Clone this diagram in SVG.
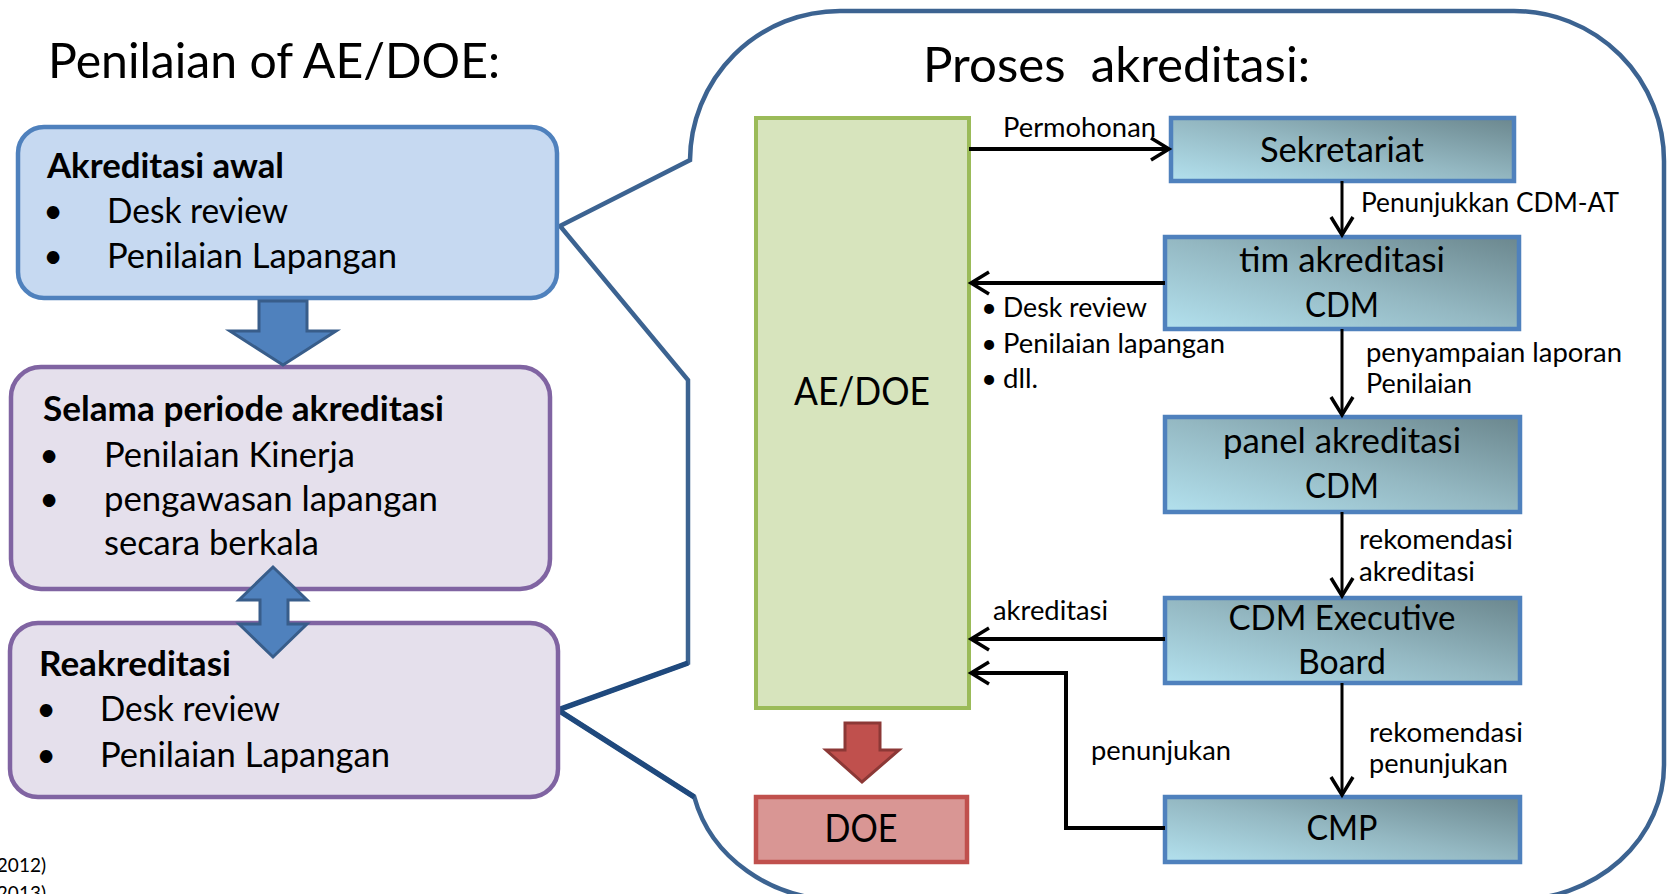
<svg xmlns="http://www.w3.org/2000/svg" width="1668" height="894" viewBox="0 0 1668 894">
  <style>
    text { font-family: Lato, "Liberation Sans", sans-serif; fill: #000; }
    .title { font-size: 49px; }
    .bx { font-size: 34px; }
    .b { font-weight: bold; }
    .lbl { font-size: 27px; }
    .big { font-size: 39px; }
    .fn { font-size: 19px; }
    .mid { text-anchor: middle; }
    .lbox1 { fill: #c6d9f1; stroke: #4f81bd; stroke-width: 4.5; }
    .lbox2 { fill: #e5e0ec; stroke: #8064a2; stroke-width: 4.5; }
    .pbox { fill: url(#tealGrad); stroke: #4f81bd; stroke-width: 4.5; }
    .conn { fill: none; stroke: #000; stroke-width: 4; marker-end: url(#chev); }
    .connv { fill: none; stroke: #000; stroke-width: 3; marker-end: url(#chev); }
    .barrow { fill: #4f81bd; stroke: #385d8a; stroke-width: 3; }
    .rarrow { fill: #c0504d; stroke: #8c3836; stroke-width: 3; }
  </style>
  <defs>
    <linearGradient id="tealGrad" x1="0" y1="1" x2="1" y2="0">
      <stop offset="0" stop-color="#b3e1ee"/>
      <stop offset="0.5" stop-color="#94b8c2"/>
      <stop offset="1" stop-color="#6b878e"/>
    </linearGradient>
    <marker id="chev" markerUnits="userSpaceOnUse" markerWidth="26" markerHeight="26" viewBox="0 0 26 26" refX="22" refY="13" orient="auto">
      <path d="M4,2 L22,13 L4,24" fill="none" stroke="#000" stroke-width="3.5"/>
    </marker>
  </defs>
  <rect width="1668" height="894" fill="#fff"/>

  <!-- callout outline -->
  <g id="callout">
    <path d="M690,160 A150,150 0 0 1 840,11 H1514 A150,150 0 0 1 1664,161 V765 A150,135 0 0 1 1514,900 H840 A150,135 0 0 1 694.3,797 L558,710 L688,663 V380 L560,226 Z" fill="none" stroke="#3c6391" stroke-width="4.5" stroke-linejoin="miter"/>
    <path d="M688,663 L558,710 L694.3,797" fill="none" stroke="#1f497d" stroke-width="5.5"/>
  </g>

  <!-- left title -->
  <text class="title" x="48" y="78" textLength="452" lengthAdjust="spacingAndGlyphs">Penilaian of AE/DOE:</text>

  <g id="akreditasi-awal">
    <rect class="lbox1" x="18" y="127" width="539" height="171" rx="26"/>
    <text class="bx b" x="47" y="178" textLength="237" lengthAdjust="spacingAndGlyphs">Akreditasi awal</text>
    <text class="bx mid" x="53" y="223">•</text>
    <text class="bx" x="107" y="223" textLength="181" lengthAdjust="spacingAndGlyphs">Desk review</text>
    <text class="bx mid" x="53" y="268">•</text>
    <text class="bx" x="107" y="268" textLength="290" lengthAdjust="spacingAndGlyphs">Penilaian Lapangan</text>
  </g>

  <g id="selama-periode">
    <rect class="lbox2" x="11" y="367" width="539" height="222" rx="30"/>
    <text class="bx b" x="43" y="421" textLength="401" lengthAdjust="spacingAndGlyphs">Selama periode akreditasi</text>
    <text class="bx mid" x="49" y="467">•</text>
    <text class="bx" x="104" y="467" textLength="251" lengthAdjust="spacingAndGlyphs">Penilaian Kinerja</text>
    <text class="bx mid" x="49" y="511">•</text>
    <text class="bx" x="104" y="511" textLength="334" lengthAdjust="spacingAndGlyphs">pengawasan lapangan</text>
    <text class="bx" x="104" y="555" textLength="215" lengthAdjust="spacingAndGlyphs">secara berkala</text>
  </g>

  <g id="reakreditasi">
    <rect class="lbox2" x="10" y="623" width="548" height="174" rx="28"/>
    <text class="bx b" x="39" y="676" textLength="192" lengthAdjust="spacingAndGlyphs">Reakreditasi</text>
    <text class="bx mid" x="46" y="721">•</text>
    <text class="bx" x="100" y="721" textLength="180" lengthAdjust="spacingAndGlyphs">Desk review</text>
    <text class="bx mid" x="46" y="767">•</text>
    <text class="bx" x="100" y="767" textLength="290" lengthAdjust="spacingAndGlyphs">Penilaian Lapangan</text>
  </g>

  <g id="left-arrows">
    <path class="barrow" d="M259,301 H307 V331 H336 L283,365 L230,331 H259 Z"/>
    <path class="barrow" d="M273,567 L307,600 H288 V624 H307 L273,657 L239,624 H260 V600 H239 Z"/>
  </g>

  <g id="footnote">
    <text class="fn" x="46" y="872" text-anchor="end">2012)</text>
    <text class="fn" x="46" y="900" text-anchor="end">2013)</text>
  </g>

  <!-- right title -->
  <text class="title" x="923" y="82" xml:space="preserve" textLength="387" lengthAdjust="spacingAndGlyphs">Proses  akreditasi:</text>

  <g id="ae-doe">
    <rect x="756" y="118" width="213" height="590" fill="#d7e4bd" stroke="#9bbb59" stroke-width="4"/>
    <text class="big mid" x="862" y="405" textLength="136" lengthAdjust="spacingAndGlyphs">AE/DOE</text>
  </g>

  <g id="doe-arrow">
    <path class="rarrow" d="M845,723 H880 V750 H899 L862,782 L826,750 H845 Z"/>
  </g>

  <g id="doe">
    <rect x="756" y="797" width="211" height="65" fill="#d99694" stroke="#c0504d" stroke-width="4.5"/>
    <text class="big mid" x="861" y="842" textLength="73" lengthAdjust="spacingAndGlyphs">DOE</text>
  </g>

  <g id="sekretariat">
    <rect class="pbox" x="1171" y="118" width="343" height="63"/>
    <text class="bx mid" x="1342" y="162" textLength="164" lengthAdjust="spacingAndGlyphs">Sekretariat</text>
  </g>

  <g id="tim-akreditasi">
    <rect class="pbox" x="1165" y="237" width="354" height="92"/>
    <text class="bx mid" x="1342" y="272" textLength="206" lengthAdjust="spacingAndGlyphs">tim akreditasi</text>
    <text class="bx mid" x="1342" y="317" textLength="74" lengthAdjust="spacingAndGlyphs">CDM</text>
  </g>

  <g id="panel-akreditasi">
    <rect class="pbox" x="1165" y="417" width="355" height="95"/>
    <text class="bx mid" x="1342" y="453" textLength="238" lengthAdjust="spacingAndGlyphs">panel akreditasi</text>
    <text class="bx mid" x="1342" y="498" textLength="74" lengthAdjust="spacingAndGlyphs">CDM</text>
  </g>

  <g id="cdm-eb">
    <rect class="pbox" x="1165" y="598" width="355" height="85"/>
    <text class="bx mid" x="1342" y="630" textLength="227" lengthAdjust="spacingAndGlyphs">CDM Executive</text>
    <text class="bx mid" x="1342" y="674" textLength="88" lengthAdjust="spacingAndGlyphs">Board</text>
  </g>

  <g id="cmp">
    <rect class="pbox" x="1165" y="797" width="355" height="65"/>
    <text class="bx mid" x="1342" y="840" textLength="71" lengthAdjust="spacingAndGlyphs">CMP</text>
  </g>

  <g id="connectors">
    <path class="conn" d="M969,149 H1169"/>
    <path class="connv" d="M1342,181 V235"/>
    <path class="conn" d="M1165,283 H971"/>
    <path class="connv" d="M1342,329 V415"/>
    <path class="connv" d="M1342,512 V596"/>
    <path class="conn" d="M1165,639 H971"/>
    <path class="connv" d="M1342,683 V795"/>
    <path class="conn" d="M1165,828 H1066 V673 H971"/>

    <text class="lbl" x="1003" y="137" textLength="153" lengthAdjust="spacingAndGlyphs">Permohonan</text>
    <text class="lbl" x="1361" y="212" textLength="258" lengthAdjust="spacingAndGlyphs">Penunjukkan CDM-AT</text>
    <text class="lbl mid" x="989" y="317">•</text>
    <text class="lbl" x="1003" y="317" textLength="144" lengthAdjust="spacingAndGlyphs">Desk review</text>
    <text class="lbl mid" x="989" y="353">•</text>
    <text class="lbl" x="1003" y="353" textLength="222" lengthAdjust="spacingAndGlyphs">Penilaian lapangan</text>
    <text class="lbl mid" x="989" y="388">•</text>
    <text class="lbl" x="1003" y="388" textLength="35" lengthAdjust="spacingAndGlyphs">dll.</text>
    <text class="lbl" x="1366" y="362" textLength="256" lengthAdjust="spacingAndGlyphs">penyampaian laporan</text>
    <text class="lbl" x="1366" y="393" textLength="106" lengthAdjust="spacingAndGlyphs">Penilaian</text>
    <text class="lbl" x="1359" y="549" textLength="154" lengthAdjust="spacingAndGlyphs">rekomendasi</text>
    <text class="lbl" x="1359" y="581" textLength="116" lengthAdjust="spacingAndGlyphs">akreditasi</text>
    <text class="lbl" x="993" y="620" textLength="115" lengthAdjust="spacingAndGlyphs">akreditasi</text>
    <text class="lbl" x="1369" y="742" textLength="154" lengthAdjust="spacingAndGlyphs">rekomendasi</text>
    <text class="lbl" x="1369" y="773" textLength="139" lengthAdjust="spacingAndGlyphs">penunjukan</text>
    <text class="lbl" x="1091" y="760" textLength="140" lengthAdjust="spacingAndGlyphs">penunjukan</text>
  </g>
</svg>
